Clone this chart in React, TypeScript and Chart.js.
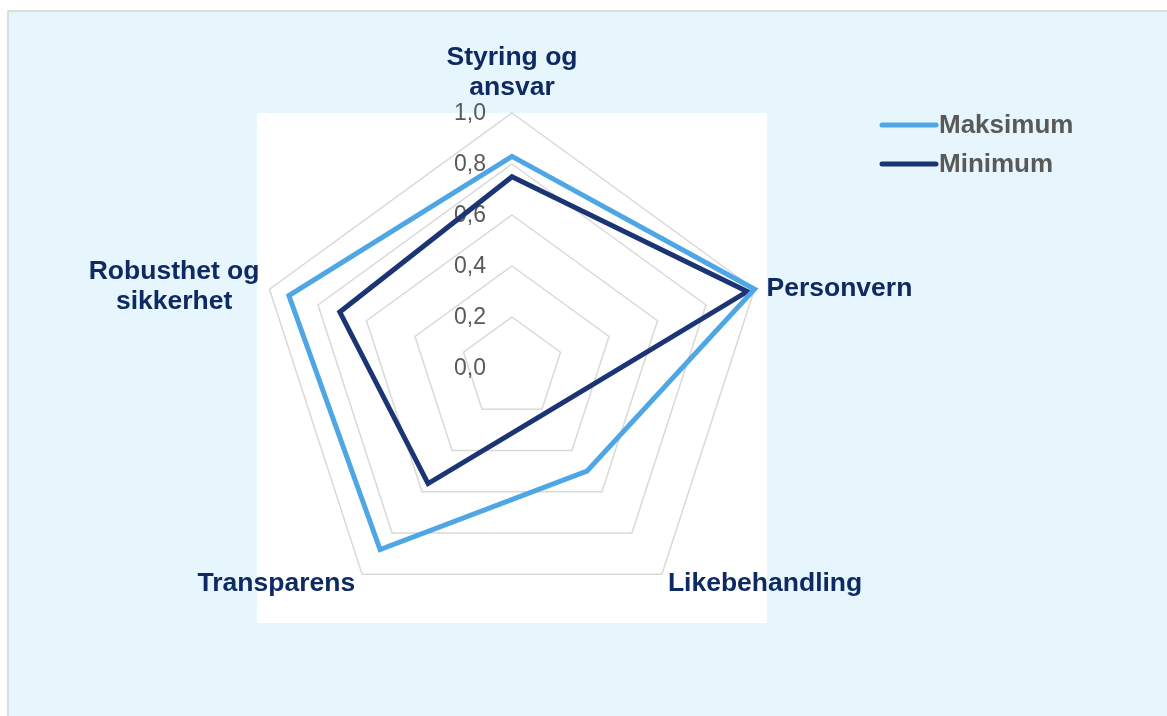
import React, { useEffect, useRef } from "react";
import { Chart, registerables } from "chart.js";

Chart.register(...registerables);

const categories: (string | string[])[] = [
  ["Styring og", "ansvar"],
  "Personvern",
  "Likebehandling",
  "Transparens",
  ["Robusthet og", "sikkerhet"],
];
const seriesNames = ["Maksimum", "Minimum"];
const maksimum = [0.83, 1.0, 0.5, 0.88, 0.92];
const minimum = [0.75, 0.97, 0.22, 0.56, 0.71];
const tickValues = [0, 0.2, 0.4, 0.6, 0.8, 1.0];
const tickLabels = ["0,0", "0,2", "0,4", "0,6", "0,8", "1,0"];

const COLOR_MAX = "#4EA6E4";
const COLOR_MIN = "#1B3474";
const LABEL_COLOR = "#0E2A63";
const GRAY_TEXT = "#595959";
const FONT = '"Liberation Sans", Arial, sans-serif';

const W = 1167;
const H = 716;

const decorPlugin = {
  id: "decor",
  beforeDraw(chart: any) {
    const ctx = chart.ctx;
    const a = chart.chartArea;
    ctx.save();
    ctx.fillStyle = "#ffffff";
    ctx.fillRect(0, 0, W, H);
    ctx.fillStyle = "#E7F5FD";
    ctx.fillRect(8, 11, W - 8, H - 11);
    ctx.strokeStyle = "#D4D4D4";
    ctx.lineWidth = 1.5;
    ctx.beginPath();
    ctx.moveTo(8, H);
    ctx.lineTo(8, 11);
    ctx.lineTo(W, 11);
    ctx.stroke();
    ctx.fillStyle = "#ffffff";
    ctx.fillRect(a.left, a.top, a.right - a.left, a.bottom - a.top);
    ctx.restore();
  },
  beforeDatasetsDraw(chart: any) {
    const ctx = chart.ctx;
    const r = chart.scales.r;
    ctx.save();
    ctx.font = `23px ${FONT}`;
    ctx.fillStyle = GRAY_TEXT;
    ctx.textAlign = "right";
    ctx.textBaseline = "middle";
    tickValues.forEach((v, i) => {
      const d = r.getDistanceFromCenterForValue(v);
      ctx.fillText(tickLabels[i], r.xCenter - 26, r.yCenter - d + 1);
    });
    ctx.restore();
  },
  afterDraw(chart: any) {
    const ctx = chart.ctx;
    const r = chart.scales.r;
    ctx.save();
    // point labels
    ctx.font = `bold 26.5px ${FONT}`;
    ctx.fillStyle = LABEL_COLOR;
    ctx.textBaseline = "middle";
    const lh = 30;
    categories.forEach((cat, i) => {
      const lines = Array.isArray(cat) ? cat : [cat];
      const p = r.getPointPosition(i, r.drawingArea);
      const widths = lines.map((l) => ctx.measureText(l).width);
      const maxW = Math.max(...widths);
      let cx = p.x;
      let cy = p.y;
      if (i === 0) {
        cx = p.x;
        cy = p.y - 55;
      } else if (i === 1) {
        cx = p.x + 12 + maxW / 2;
        cy = p.y - 1;
      } else if (i === 2) {
        cx = p.x + 6 + maxW / 2;
        cy = p.y + 9;
      } else if (i === 3) {
        cx = p.x - 7 - maxW / 2;
        cy = p.y + 9;
      } else if (i === 4) {
        cx = p.x - 10 - maxW / 2;
        cy = p.y - 18;
      }
      ctx.textAlign = "center";
      lines.forEach((l, k) => ctx.fillText(l, cx, cy + k * lh));
    });
    // legend
    const colors = [COLOR_MAX, COLOR_MIN];
    ctx.font = `bold 26px ${FONT}`;
    ctx.textAlign = "left";
    seriesNames.forEach((name, i) => {
      const y = 125 + i * 39;
      ctx.strokeStyle = colors[i];
      ctx.lineWidth = 5;
      ctx.lineCap = "round";
      ctx.beginPath();
      ctx.moveTo(882, y);
      ctx.lineTo(936, y);
      ctx.stroke();
      ctx.fillStyle = GRAY_TEXT;
      ctx.fillText(name, 939, y + 1);
    });
    ctx.restore();
  },
};

export default function App() {
  const ref = useRef<HTMLCanvasElement | null>(null);
  useEffect(() => {
    if (!ref.current) return;
    const chart = new Chart(ref.current, {
      type: "radar",
      data: {
        labels: categories as any,
        datasets: [
          {
            label: seriesNames[0],
            data: maksimum,
            borderColor: COLOR_MAX,
            backgroundColor: "transparent",
            borderWidth: 5,
            pointRadius: 0,
            fill: false,
            tension: 0,
            borderJoinStyle: "miter",
          },
          {
            label: seriesNames[1],
            data: minimum,
            borderColor: COLOR_MIN,
            backgroundColor: "transparent",
            borderWidth: 5,
            pointRadius: 0,
            fill: false,
            tension: 0,
            borderJoinStyle: "miter",
          },
        ],
      },
      options: {
        animation: false,
        responsive: false,
        maintainAspectRatio: false,
        layout: { padding: { left: 257, top: 113, right: W - 767, bottom: H - 623 } },
        plugins: { legend: { display: false }, tooltip: { enabled: false } },
        scales: {
          r: {
            min: 0,
            max: 1,
            ticks: { stepSize: 0.2, display: false },
            grid: { color: "#D9D9D9", lineWidth: 1.5 },
            angleLines: { display: false },
            pointLabels: { display: false },
          },
        },
      },
      plugins: [decorPlugin],
    });
    return () => chart.destroy();
  }, []);
  return (
    <div style={{ position: "absolute", left: 0, top: 0, width: W, height: H }}>
      <canvas ref={ref} width={W} height={H} style={{ width: W, height: H, display: "block" }} />
    </div>
  );
}
